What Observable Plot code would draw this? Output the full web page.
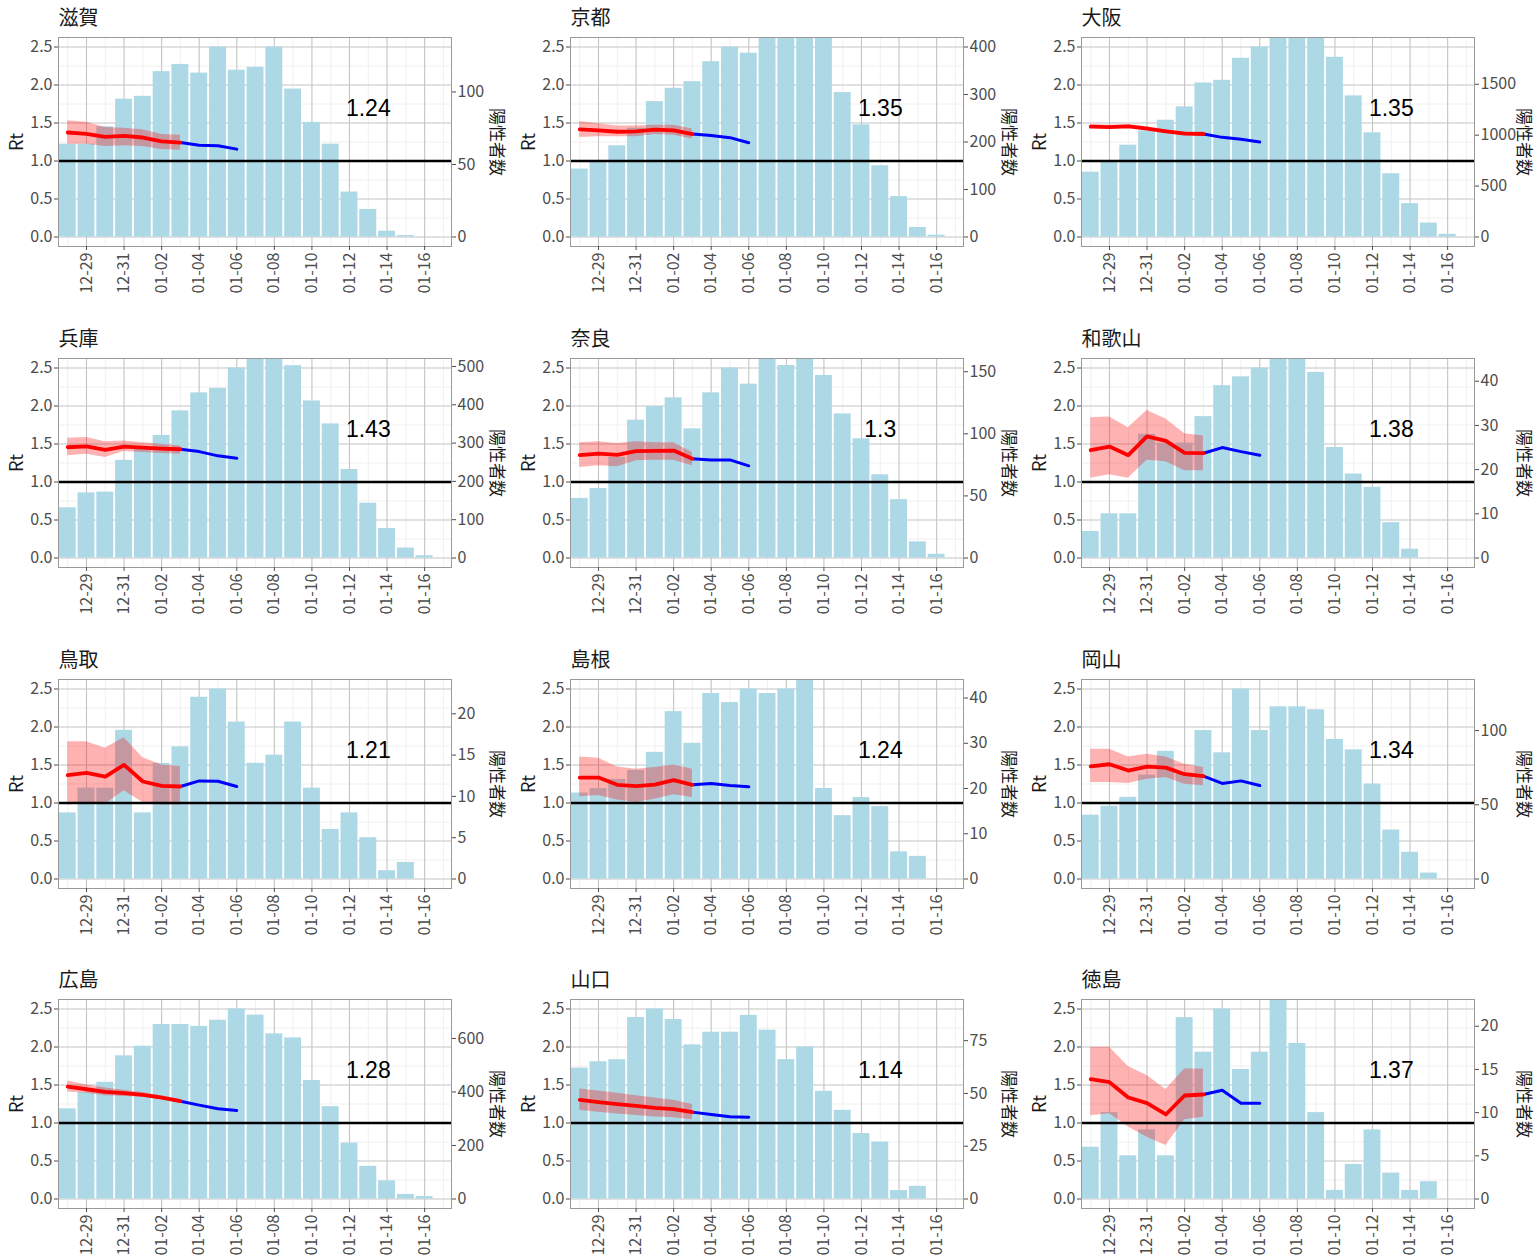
<!DOCTYPE html>
<html><head><meta charset="utf-8">
<script src="https://cdn.jsdelivr.net/npm/d3@7"></script>
<script src="https://cdn.jsdelivr.net/npm/@observablehq/plot@0.6"></script>
<style>
body{margin:0;background:#fff;}
#wrap{position:relative;width:1537px;height:1260px;overflow:hidden;}
.panel{position:absolute;width:512px;height:321px;}
</style></head><body><div id="wrap"></div>
<script>
// ---- data ----
const dates = ["12-28","12-29","12-30","12-31","01-01","01-02","01-03","01-04","01-05","01-06","01-07","01-08","01-09","01-10","01-11","01-12","01-13","01-14","01-15","01-16","01-17"];
const rtTicks = [0, 0.5, 1, 1.5, 2, 2.5];
const dateTickLabels = ["12-29","12-31","01-02","01-04","01-06","01-08","01-10","01-12","01-14","01-16"];
const labelDate = "01-13";

const names = ["滋賀","京都","大阪","兵庫","奈良","和歌山","鳥取","島根","岡山","広島","山口","徳島"];
const latest = ["1.24","1.35","1.35","1.43","1.3","1.38","1.21","1.24","1.34","1.28","1.14","1.37"];

const shigaCases = [64,64,76,95,97,114,119,113,131,115,117,131,102,79,64,31,19,4,1,0];
const shigaRt = [1.375,1.357,1.318,1.331,1.309,1.257,1.243,1.208,1.200,1.156];
const shigaLo = [1.22,1.22,1.19,1.20,1.19,1.15,1.14];
const shigaHi = [1.53,1.51,1.44,1.43,1.41,1.35,1.34];
const shigaAxis = [0,50,100];

const kyotoCases = [143,159,192,229,285,313,327,369,400,387,440,450,445,430,304,236,150,85,20,4];
const kyotoRt = [1.416,1.403,1.385,1.39,1.412,1.403,1.355,1.337,1.307,1.241];
const kyotoLo = [1.31,1.32,1.32,1.32,1.35,1.34,1.29];
const kyotoHi = [1.52,1.49,1.46,1.46,1.47,1.47,1.42];
const kyotoAxis = [0,100,200,300,400];

const osakaCases = [637,745,902,1042,1147,1278,1513,1539,1755,1866,2000,2050,1990,1765,1386,1023,621,327,137,26];
const osakaRt = [1.451,1.447,1.455,1.425,1.39,1.36,1.355,1.311,1.285,1.25];
const osakaLo = [1.43,1.43,1.43,1.40,1.37,1.34,1.33];
const osakaHi = [1.48,1.47,1.48,1.45,1.41,1.38,1.38];
const osakaAxis = [0,500,1000,1500];

const hyogoCases = [131,170,172,255,285,320,384,431,443,496,530,525,502,410,350,231,143,77,26,6];
const hyogoRt = [1.457,1.47,1.422,1.466,1.453,1.44,1.431,1.40,1.344,1.313];
const hyogoLo = [1.344,1.366,1.322,1.40,1.387,1.374,1.366];
const hyogoHi = [1.575,1.584,1.531,1.54,1.518,1.497,1.475];
const hyogoAxis = [0,100,200,300,400,500];

const naraCases = [48,56,81,111,122,129,104,133,153,140,165,155,162,147,116,96,67,47,13,3];
const naraRt = [1.353,1.374,1.357,1.405,1.409,1.414,1.305,1.291,1.291,1.213];
const naraLo = [1.191,1.213,1.20,1.278,1.287,1.287,1.213];
const naraHi = [1.518,1.531,1.505,1.531,1.518,1.518,1.387];
const naraAxis = [0,50,100,150];

const wakayamaCases = [6,10,10,28,26,26,32,39,41,43,46,46,42,25,19,16,8,2,0,0];
const wakayamaRt = [1.418,1.466,1.353,1.601,1.54,1.383,1.379,1.453,1.40,1.353];
const wakayamaLo = [1.05,1.095,1.05,1.287,1.265,1.147,1.147];
const wakayamaHi = [1.846,1.854,1.715,1.94,1.83,1.636,1.606];
const wakayamaAxis = [0,10,20,30,40];

const tottoriCases = [8,11,11,18,8,14,16,22,23,19,14,15,19,11,6,8,5,1,2,0];
const tottoriRt = [1.366,1.396,1.348,1.501,1.283,1.226,1.217,1.291,1.287,1.217];
const tottoriLo = [0.973,0.999,0.986,1.16,1.008,0.973,0.973];
const tottoriHi = [1.806,1.806,1.719,1.859,1.597,1.501,1.479];
const tottoriAxis = [0,5,10,15,20];

const shimaneCases = [19,20,22,24,28,37,30,41,39,42,41,42,44,20,14,18,16,6,5,0];
const shimaneRt = [1.335,1.335,1.239,1.222,1.243,1.30,1.239,1.257,1.23,1.213];
const shimaneLo = [1.082,1.10,1.038,1.008,1.05,1.108,1.073];
const shimaneHi = [1.605,1.588,1.475,1.444,1.466,1.50,1.444];
const shimaneAxis = [0,10,20,30,40];

const okayamaCases = [43,49,55,70,86,71,100,85,128,100,116,116,114,94,87,64,33,18,4,0];
const okayamaRt = [1.483,1.51,1.427,1.479,1.466,1.379,1.353,1.257,1.291,1.23];
const okayamaLo = [1.27,1.27,1.257,1.313,1.335,1.248,1.226];
const okayamaHi = [1.706,1.706,1.606,1.64,1.606,1.51,1.466];
const okayamaAxis = [0,50,100];

const hiroshimaCases = [337,398,436,535,571,652,652,645,668,710,687,617,602,443,345,209,122,68,17,9];
const hiroshimaRt = [1.479,1.444,1.409,1.392,1.37,1.335,1.287,1.235,1.187,1.165];
const hiroshimaLo = [1.409,1.39,1.36,1.35,1.34,1.31,1.26];
const hiroshimaHi = [1.553,1.50,1.46,1.43,1.40,1.36,1.31];
const hiroshimaAxis = [0,200,400,600];

const yamaguchiCases = [62,65,66,86,90,85,73,79,79,87,80,66,72,51,42,31,27,4,6,0];
const yamaguchiRt = [1.305,1.274,1.248,1.226,1.2,1.182,1.143,1.112,1.081,1.077];
const yamaguchiLo = [1.165,1.14,1.12,1.10,1.08,1.07,1.042];
const yamaguchiHi = [1.449,1.42,1.39,1.36,1.33,1.30,1.243];
const yamaguchiAxis = [0,25,50,75];

const tokushimaCases = [6,10,5,8,5,21,17,22,15,17,24,18,10,1,4,8,3,1,2,0];
const tokushimaRt = [1.576,1.537,1.335,1.261,1.112,1.362,1.375,1.432,1.261,1.261];
const tokushimaLo = [1.095,1.121,0.946,0.814,0.705,1.042,1.077];
const tokushimaHi = [1.997,1.997,1.743,1.625,1.44,1.712,1.712];
const tokushimaAxis = [0,5,10,15,20];

const panels = [
  [shigaCases, shigaRt, shigaLo, shigaHi, shigaAxis],
  [kyotoCases, kyotoRt, kyotoLo, kyotoHi, kyotoAxis],
  [osakaCases, osakaRt, osakaLo, osakaHi, osakaAxis],
  [hyogoCases, hyogoRt, hyogoLo, hyogoHi, hyogoAxis],
  [naraCases, naraRt, naraLo, naraHi, naraAxis],
  [wakayamaCases, wakayamaRt, wakayamaLo, wakayamaHi, wakayamaAxis],
  [tottoriCases, tottoriRt, tottoriLo, tottoriHi, tottoriAxis],
  [shimaneCases, shimaneRt, shimaneLo, shimaneHi, shimaneAxis],
  [okayamaCases, okayamaRt, okayamaLo, okayamaHi, okayamaAxis],
  [hiroshimaCases, hiroshimaRt, hiroshimaLo, hiroshimaHi, hiroshimaAxis],
  [yamaguchiCases, yamaguchiRt, yamaguchiLo, yamaguchiHi, yamaguchiAxis],
  [tokushimaCases, tokushimaRt, tokushimaLo, tokushimaHi, tokushimaAxis]
];

// ---- drawing ----
const FONT = "'Noto Sans CJK JP', 'Noto Sans', sans-serif";
const wrap = document.getElementById("wrap");
const dayIndex = s => dates.indexOf(s);
const majorX = dateTickLabels.map(dayIndex);
const minorX = dates.filter(d => !dateTickLabels.includes(d)).map(dayIndex);
const minorY = rtTicks.slice(0, -1).map(t => t + 0.25);

panels.forEach(([cases, rt, lo, hi, axisVals], n) => {
  const col = n % 3, row = Math.floor(n / 3);
  const k = 2.5 / d3.max(cases.slice(0, rt.length));
  const days = d3.range(cases.length);
  const redIdx = d3.range(lo.length);
  const blueIdx = d3.range(lo.length - 1, rt.length);
  const svg = Plot.plot({
    width: 512, height: 321,
    marginLeft: 58, marginRight: 61, marginTop: 37, marginBottom: 75,
    x: {domain: [-0.49, 20.43], axis: null},
    y: {domain: [-0.125, 2.625], axis: null},
    style: {fontFamily: FONT, overflow: "visible", background: "transparent"},
    marks: [
      Plot.gridX(minorX, {stroke: "#ececec", strokeOpacity: 1, strokeWidth: 0.8}),
      Plot.gridY(minorY, {stroke: "#ececec", strokeOpacity: 1, strokeWidth: 0.8}),
      Plot.gridX(majorX, {stroke: "#c4c4c4", strokeOpacity: 1, strokeWidth: 1.1}),
      Plot.gridY(rtTicks, {stroke: "#c4c4c4", strokeOpacity: 1, strokeWidth: 1.1}),
      Plot.rect(days, {x1: i => i - 0.45, x2: i => i + 0.45, y1: 0, y2: i => cases[i] * k,
        fill: "#ADD8E6", fillOpacity: 1, clip: true}),
      Plot.areaY(redIdx, {x: i => i, y1: i => lo[i], y2: i => hi[i], fill: "red", fillOpacity: 0.3}),
      Plot.ruleY([1], {stroke: "black", strokeWidth: 2.6}),
      Plot.line(blueIdx, {x: i => i, y: i => rt[i], stroke: "blue", strokeWidth: 3}),
      Plot.line(redIdx, {x: i => i, y: i => rt[i], stroke: "red", strokeWidth: 3.8}),
      Plot.text([latest[n]], {x: dayIndex(labelDate), y: 1.69, fontSize: 23,
        fontFamily: "'Liberation Sans', Arial, sans-serif", fill: "black"}),
      Plot.frame({stroke: "#9a9a9a"}),
      Plot.axisY(rtTicks, {anchor: "left", tickSize: 4, tickPadding: 2, fontSize: 16, color: "#4d4d4d",
        tickFormat: d => d.toFixed(1), label: null}),
      Plot.axisY(axisVals.map(c => c * k), {anchor: "right", tickSize: 4, tickPadding: 2, fontSize: 16,
        color: "#4d4d4d", tickFormat: d => String(Math.round(d / k)), label: null}),
      Plot.axisX(majorX, {anchor: "bottom", tickSize: 4, tickPadding: 2, tickRotate: -90, fontSize: 16,
        color: "#4d4d4d", tickFormat: i => dates[i], label: null}),
      Plot.text([names[n]], {frameAnchor: "top-left", dy: -18.5, textAnchor: "start", lineAnchor: "middle",
        fontSize: 20, fill: "#1a1a1a"}),
      Plot.text(["Rt"], {frameAnchor: "left", dx: -41, rotate: -90, textAnchor: "middle", lineAnchor: "middle",
        fontSize: 18, fill: "#1a1a1a"}),
      Plot.text(["陽性者数"], {frameAnchor: "right", dx: col === 2 ? 48.5 : 45, rotate: 90, textAnchor: "middle",
        lineAnchor: "middle", fontSize: 17, fill: "#1a1a1a"})
    ]
  });
  const div = document.createElement("div");
  div.className = "panel";
  div.style.left = Math.round(col * 511.7) + "px";
  div.style.top = Math.round(row * 320.8) + "px";
  div.appendChild(svg);
  wrap.appendChild(div);
});
</script></body></html>
